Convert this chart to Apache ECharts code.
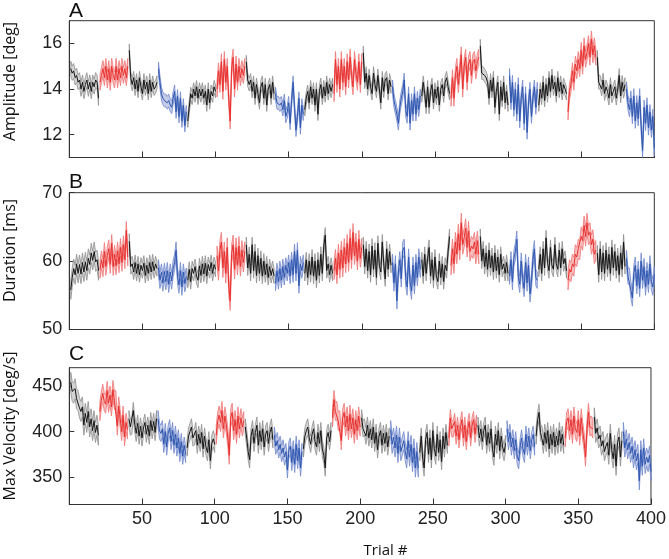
<!DOCTYPE html>
<html><head><meta charset="utf-8">
<script src="https://cdn.jsdelivr.net/npm/echarts@6/dist/echarts.min.js"></script>
<style>html,body{margin:0;padding:0;background:#fff}#c{width:669px;height:559px}</style>
</head><body><div id="c"></div>
<script>
// ---------------- data ----------------
const trialTicks = [50, 100, 150, 200, 250, 300, 350, 400];
const segmentLength = 20;
const segmentConditions = [
  'gray','red','gray','blue','gray','red','gray','blue','gray','red',
  'gray','blue','gray','red','gray','blue','gray','red','gray','blue'
];
const amplitudeTicks = [12, 14, 16];
const durationTicks = [50, 60, 70];
const velocityTicks = [350, 400, 450];

const amplitude = [
  14.9,14.7,14.8,14.5,14.6,14.3,14.4,14.0,14.3,13.9,14.2,14.4,14.0,14.3,13.9,14.3,14.1,14.4,14.3,13.6,
  14.3,14.6,14.9,14.5,15.0,14.4,14.9,14.3,15.0,14.6,14.4,15.0,14.4,14.9,14.5,15.0,14.6,14.9,14.5,15.0,
  15.7,14.5,14.2,14.5,14.0,14.4,13.9,14.5,14.1,13.8,14.4,14.0,14.3,13.8,14.4,13.9,14.3,14.0,14.1,14.3,
  14.9,14.3,13.8,13.6,13.5,13.5,13.4,13.5,13.3,13.2,13.6,13.9,13.0,13.7,12.8,13.6,12.6,13.3,12.4,13.0,
  12.6,13.2,13.8,13.6,14.0,13.7,14.1,13.6,14.0,13.7,14.0,13.6,13.9,13.3,14.0,13.4,13.9,13.7,14.1,13.9,
  14.0,14.8,14.2,15.2,13.9,15.3,14.3,15.0,13.6,12.6,14.9,15.4,14.0,15.1,14.3,15.0,14.5,14.9,14.6,15.0,
  15.2,14.4,14.2,14.4,13.9,14.3,13.6,14.2,13.8,13.4,14.1,14.3,13.6,14.2,13.3,14.0,14.2,13.6,14.3,13.8,
  13.8,13.4,13.4,13.3,13.4,13.1,13.5,12.8,13.0,13.4,12.5,13.5,14.3,13.2,12.2,12.8,13.6,12.3,13.3,12.9,
  13.1,13.6,13.9,13.4,14.1,13.6,14.0,13.3,14.0,12.9,13.9,14.2,13.6,14.1,13.7,14.3,13.8,14.2,13.9,14.2,
  13.8,15.3,14.2,15.0,14.0,15.3,14.3,15.0,14.1,15.2,14.4,15.4,14.6,14.1,15.3,14.7,14.3,15.2,14.2,15.2,
  15.6,14.3,14.7,14.0,14.6,14.1,13.8,14.7,14.2,13.9,14.6,14.0,13.4,14.5,13.9,14.4,14.5,13.8,14.4,14.1,
  14.1,13.5,13.2,12.9,12.5,13.2,13.6,13.9,14.4,13.1,12.8,13.8,12.5,13.5,12.9,13.8,12.9,13.6,13.1,13.7,
  13.7,14.3,13.8,13.2,14.1,13.2,13.9,14.2,13.4,14.0,13.6,14.1,13.3,14.0,14.2,13.7,14.3,14.5,14.1,13.8,
  13.6,14.5,13.6,14.6,15.0,14.2,14.8,15.5,14.0,15.0,15.4,14.3,15.1,15.3,14.6,15.2,15.3,14.8,15.2,15.4,
  15.9,14.7,14.7,14.6,14.5,14.3,13.6,14.4,13.9,14.5,13.2,13.9,14.3,12.9,14.1,13.5,14.3,13.4,13.9,13.3,
  14.6,13.4,14.3,13.1,14.0,12.9,14.2,12.6,13.6,14.1,12.5,13.8,12.1,13.4,14.0,12.8,13.6,14.1,13.2,14.0,
  13.3,14.0,13.6,14.3,13.5,14.2,13.7,14.5,13.9,14.6,14.0,14.3,13.7,14.5,13.9,14.3,13.8,14.2,14.0,13.8,
  13.0,13.9,14.2,14.8,14.3,15.1,14.8,15.3,14.9,15.7,15.0,15.9,15.3,15.6,16.0,15.4,16.2,15.5,15.9,15.4,
  15.4,14.3,14.3,14.0,14.4,13.8,14.1,13.9,13.6,14.2,13.7,13.9,14.1,13.6,14.0,14.6,13.7,14.3,13.9,14.2,
  14.0,13.4,13.1,13.6,12.8,13.7,12.6,13.4,12.7,13.7,12.4,11.3,13.2,12.5,13.3,12.3,13.0,12.2,12.8,11.4
];
const amplitudeBand = [0.32,0.35,0.28,0.28,0.28,0.35,0.28,0.28,0.28,0.35,0.28,0.3,0.28,0.35,0.28,0.3,0.28,0.35,0.3,0.32];

const duration = [
  55.8,57.6,58.9,58.0,59.6,58.2,59.5,58.1,59.8,58.4,59.9,58.6,60.4,59.5,61.2,60.1,61.4,59.9,60.2,58.6,
  58.8,60.2,59.0,61.4,59.2,60.8,61.8,59.5,62.6,59.2,61.0,59.3,61.5,59.6,62.0,59.8,62.4,60.2,64.5,60.6,
  62.9,59.2,59.6,58.4,59.8,58.2,59.6,58.0,59.4,58.6,59.7,57.9,59.4,58.2,59.8,58.4,59.9,58.6,59.6,58.9,
  59.0,57.2,58.4,56.8,58.5,57.0,58.6,56.6,58.4,57.1,58.9,59.8,61.6,57.8,56.5,58.6,56.2,58.4,56.7,57.8,
  57.2,58.8,57.0,58.9,58.2,59.2,57.8,57.2,59.3,57.9,59.6,58.1,59.7,57.8,59.5,58.6,59.8,58.2,59.5,58.8,
  60.8,58.6,61.6,62.8,59.0,61.4,58.2,62.0,56.5,54.2,61.0,62.4,58.8,62.0,59.4,62.2,59.2,61.6,59.8,61.4,
  62.4,59.0,61.0,58.2,62.4,58.6,61.4,57.9,60.8,58.2,60.4,57.8,60.0,58.0,59.6,57.6,59.2,57.9,58.9,57.8,
  56.8,58.6,57.0,58.9,57.2,59.2,57.6,59.4,58.2,59.8,57.8,60.2,58.0,61.4,58.2,61.6,56.4,59.6,58.6,59.8,
  58.2,60.2,57.6,60.0,58.0,60.6,57.8,60.0,57.2,60.2,57.9,61.0,58.2,62.2,63.8,58.6,59.6,58.0,59.4,58.2,
  58.6,60.4,58.0,61.2,58.8,61.6,59.0,62.0,59.6,62.6,59.8,63.4,60.2,64.2,60.8,62.8,60.0,63.2,60.4,62.0,
  62.4,59.2,61.8,58.6,61.4,58.0,62.2,58.8,61.6,57.6,62.6,59.4,58.4,62.8,59.6,57.4,61.8,58.8,61.4,59.4,
  59.8,56.8,59.6,54.2,58.4,60.2,57.4,61.6,62.0,57.6,56.2,60.6,57.0,55.6,59.4,56.4,59.8,57.6,60.6,58.8,
  60.2,57.8,61.0,58.2,60.4,62.0,57.8,60.2,57.2,60.6,57.8,57.0,60.0,57.6,59.6,57.0,59.4,58.6,61.4,63.6,
  59.4,61.8,59.6,62.8,61.0,64.0,61.6,65.6,62.4,63.4,64.8,62.0,64.4,61.4,62.2,61.8,62.8,61.0,63.0,61.0,
  63.6,60.0,61.8,59.2,61.2,58.8,61.6,59.0,60.8,58.4,61.2,58.6,60.6,58.0,61.0,58.8,59.6,58.2,59.8,58.2,
  57.8,60.2,57.0,60.4,61.4,63.2,57.8,56.6,60.0,57.4,56.0,59.8,56.8,59.4,55.2,57.0,60.2,61.8,57.6,57.2,
  58.8,61.0,58.2,61.8,59.0,63.4,59.8,58.6,62.0,59.4,58.8,62.4,59.6,58.8,61.6,59.0,61.8,59.6,60.4,58.6,
  57.2,58.8,58.4,59.6,59.2,61.0,60.6,61.8,61.6,63.6,63.0,65.2,63.6,65.6,63.8,64.2,62.4,63.2,61.0,61.6,
  61.2,58.0,61.8,58.4,61.2,58.2,61.6,58.8,61.0,58.2,62.0,59.0,61.4,58.6,60.8,58.0,61.2,58.8,62.8,59.2,
  60.4,57.8,57.8,55.8,54.6,58.2,59.4,56.4,58.8,56.0,60.0,57.2,59.2,56.2,58.6,56.6,59.6,57.0,56.2,58.0
];
const durationBand = [1.4,1.3,1.1,1.2,1.1,1.4,1.1,1.1,1.1,1.3,1.1,1.2,1.1,1.4,1.1,1.2,1.1,1.4,1.1,1.2];

const maxVelocity = [
  454,444,442,447,436,434,426,422,427,407,420,410,422,405,414,401,412,399,407,396,
  422,434,442,433,430,445,431,440,427,446,434,435,406,428,414,400,418,394,410,402,
  414,405,406,423,408,398,409,395,406,393,404,410,397,407,395,412,401,411,399,414,
  414,401,398,403,386,400,383,398,404,389,401,385,397,382,393,376,389,373,385,375,
  382,395,400,405,393,394,401,385,397,387,399,381,395,383,377,391,368,387,392,386,
  396,411,418,410,423,403,417,407,394,374,415,421,401,413,397,417,403,415,405,412,
  405,393,378,369,395,403,387,399,407,385,401,389,403,383,397,401,387,399,405,391,
  396,384,390,380,386,376,382,372,378,358,380,384,366,381,364,386,368,382,360,378,
  381,395,401,405,393,386,397,403,389,383,399,387,401,381,374,360,393,399,389,401,
  415,435,422,423,411,413,390,415,421,405,417,401,419,403,415,397,413,401,417,405,
  415,403,405,395,407,393,403,391,405,387,399,380,395,401,385,398,387,399,383,395,
  402,386,394,382,396,376,394,378,384,390,378,370,390,372,386,366,382,360,378,360,
  377,395,371,360,391,399,375,393,369,401,381,373,397,377,391,367,395,381,399,385,
  393,415,403,403,411,395,407,391,405,413,393,407,389,403,411,393,407,413,397,409,
  407,393,403,389,401,407,385,399,387,403,381,372,397,385,401,379,395,383,377,387,
  403,389,399,383,393,379,391,373,368,383,393,381,375,397,383,395,379,391,397,383,
  395,412,421,399,397,385,399,387,401,381,397,385,399,383,395,385,401,387,397,385,
  393,411,415,401,413,397,417,403,399,413,395,415,401,389,372,403,421,405,407,403,
  416,398,404,392,396,384,390,378,384,388,374,398,380,370,386,362,388,394,372,390,
  400,382,392,380,388,376,384,370,380,368,376,346,380,362,382,364,372,366,374,356
];
const maxVelocityBand = [11,10,9,9,9,10,9,9,9,10,9,10,9,9,9,9,9,10,10,10];

// ---------------- styling ----------------
const palette = {
  gray: { mean: '#151515', fill: '#d5d5d5', edge: '#8e8e8e' },
  red:  { mean: '#e8302e', fill: '#f7bcbc', edge: '#ef7676' },
  blue: { mean: '#2d56b0', fill: '#c4cbe9', edge: '#7088cc' }
};
const panels = [
  { values: amplitude, band: amplitudeBand, min: 11, max: 17, ticks: amplitudeTicks, title: 'Amplitude [deg]', letter: 'A', top: 20.7 },
  { values: duration, band: durationBand, min: 50, max: 70, ticks: durationTicks, title: 'Duration [ms]', letter: 'B', top: 192.7 },
  { values: maxVelocity, band: maxVelocityBand, min: 320, max: 470, ticks: velocityTicks, title: 'Max Velocity [deg/s]', letter: 'C', top: 367.7 }
];
const gridLeft = 69.3, gridRight = 669 - 654.3, gridHeight = 136.8;
const frameColor = '#333';
const labelFont = 'Liberation Sans, Arial, sans-serif';
const titleFont = 'Open Sans, Noto Sans, sans-serif';

const grid = [], xAxis = [], yAxis = [], series = [], graphic = [];
const titleCenters = [81.5, 250.5, 426];
const letterCenters = [10.8, 182.6, 354.6];

panels.forEach((p, i) => {
  grid.push({ left: gridLeft, right: gridRight, top: p.top, height: gridHeight,
    show: true, borderColor: frameColor, borderWidth: 1, backgroundColor: 'transparent' });
  xAxis.push({
    type: 'value', gridIndex: i, min: 0, max: 400, interval: 50,
    axisLine: { show: true, lineStyle: { color: frameColor, width: 1 } },
    axisTick: { show: true, inside: true, length: 6, customValues: trialTicks, lineStyle: { color: frameColor } },
    axisLabel: { show: i === 2, customValues: trialTicks, fontSize: 18, color: '#222', margin: 6, fontFamily: labelFont },
    splitLine: { show: false }
  });
  yAxis.push({
    type: 'value', gridIndex: i, min: p.min, max: p.max,
    axisLine: { show: true, lineStyle: { color: frameColor, width: 1 } },
    axisTick: { show: true, inside: true, length: 5, customValues: p.ticks, lineStyle: { color: frameColor } },
    axisLabel: { show: true, customValues: p.ticks, fontSize: 18, color: '#222', margin: 7, fontFamily: labelFont },
    splitLine: { show: false }
  });
  // confidence bands, one polygon per segment
  const segItems = segmentConditions.map((c, j) => [j * segmentLength + 1, p.values[j * segmentLength], j]);
  series.push({
    type: 'custom', xAxisIndex: i, yAxisIndex: i, data: segItems, silent: true, clip: true, z: 2,
    renderItem: function (params, api) {
      const j = params.dataIndex;
      const cond = palette[segmentConditions[j]];
      const h = p.band[j];
      const up = [], lo = [];
      for (let k = 0; k < segmentLength; k++) {
        const t = j * segmentLength + k + 1;
        const m = p.values[t - 1];
        up.push(api.coord([t, m + h]));
        lo.push(api.coord([t, m - h]));
      }
      return { type: 'polygon', shape: { points: up.concat(lo.reverse()) },
        style: { fill: cond.fill, stroke: cond.edge, lineWidth: 0.8 } };
    }
  });
  // mean lines
  segmentConditions.forEach((c, j) => {
    const data = [];
    for (let k = 0; k < segmentLength; k++) {
      const t = j * segmentLength + k + 1;
      data.push([t, p.values[t - 1]]);
    }
    series.push({ type: 'line', xAxisIndex: i, yAxisIndex: i, data, symbol: 'none', showSymbol: false,
      silent: true, z: 3, lineStyle: { color: palette[c].mean, width: 1 } });
  });
  graphic.push({ type: 'text', x: 69, y: letterCenters[i],
    style: { text: p.letter, fontSize: 21, fontFamily: labelFont, fill: '#111', align: 'left', verticalAlign: 'middle' } });
  graphic.push({ type: 'text', x: 10, y: titleCenters[i], rotation: Math.PI / 2,
    style: { text: p.title, fontSize: 16, fontFamily: titleFont, fill: '#111', align: 'center', verticalAlign: 'middle' } });
});
graphic.push({ type: 'text', x: 385.5, y: 551,
  style: { text: 'Trial #', fontSize: 15, fontFamily: titleFont, fill: '#111', align: 'center', verticalAlign: 'middle' } });

const chart = echarts.init(document.getElementById('c'), null, { renderer: 'canvas' });
chart.setOption({ animation: false, backgroundColor: '#fff', grid, xAxis, yAxis, series, graphic });
</script></body></html>
